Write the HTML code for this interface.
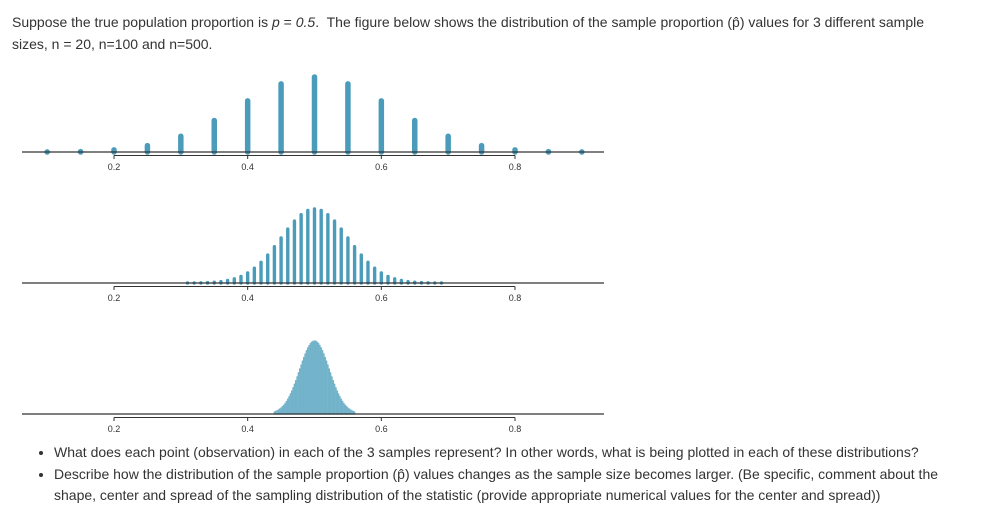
<!DOCTYPE html>
<html><head><meta charset="utf-8"><style>
body{margin:0;width:1005px;height:525px;background:#fff;font-family:"Liberation Sans",sans-serif;color:#333;font-size:14px;overflow:hidden;position:relative}
.p{position:absolute;left:12px;margin:0;line-height:22px}
ul{position:absolute;left:36px;top:442px;margin:0;padding:0 0 0 18px;line-height:21.5px;width:918px}
svg{position:absolute;left:0;top:0}
</style></head><body>
<p class="p" style="top:11px;width:940px">Suppose the true population proportion is <i>p</i> = <i>0.5</i>.&nbsp; The figure below shows the distribution of the sample proportion (p̂) values for 3 different sample sizes, n = 20, n=100 and n=500.</p>
<svg id="c" width="1005" height="525"></svg>
<ul>
<li>What does each point (observation) in each of the 3 samples represent? In other words, what is being plotted in each of these distributions?</li>
<li>Describe how the distribution of the sample proportion (p̂) values changes as the sample size becomes larger. (Be specific, comment about the shape, center and spread of the sampling distribution of the statistic (provide appropriate numerical values for the center and spread))</li>
</ul>
<script>
const tickLabels=["0.2","0.4","0.6","0.8"];
const tickValues=[0.2,0.4,0.6,0.8];
const n20Props=[0.1,0.15,0.2,0.25,0.3,0.35,0.4,0.45,0.5,0.55,0.6,0.65,0.7,0.75,0.8,0.85,0.9];
const n20Probs=[0.0002,0.001,0.005,0.015,0.037,0.074,0.120,0.160,0.176,0.160,0.120,0.074,0.037,0.015,0.005,0.001,0.0002];
const n100Probs=[0.00004,0.0001,0.0002,0.0005,0.0009,0.0016,0.0027,0.0045,0.0071,0.0108,0.0159,0.0223,0.0301,0.0390,0.0485,0.0580,0.0666,0.0735,0.0780,0.0796,0.0780,0.0735,0.0666,0.0580,0.0485,0.0390,0.0301,0.0223,0.0159,0.0108,0.0071,0.0045,0.0027,0.0016,0.0009,0.0005,0.0002,0.0001,0.00004];
const n100Start=0.31, n100Step=0.01;
const n500Rel=[0.027,0.035,0.044,0.054,0.067,0.082,0.100,0.120,0.144,0.171,0.202,0.236,0.273,0.315,0.359,0.407,0.457,0.508,0.562,0.616,0.670,0.723,0.774,0.822,0.866,0.905,0.938,0.965,0.984,0.996,1,0.996,0.984,0.965,0.938,0.905,0.866,0.822,0.774,0.723,0.670,0.616,0.562,0.508,0.457,0.407,0.359,0.315,0.273,0.236,0.202,0.171,0.144,0.120,0.100,0.082,0.067,0.054,0.044,0.035,0.027];
const n500Peak=0.0357, n500Start=0.44, n500Step=0.002;
const NS="http://www.w3.org/2000/svg", svg=document.getElementById('c');
const x=v=>114+(v-0.2)*(401/0.6);
function el(t,a){const e=document.createElementNS(NS,t);for(const k in a)e.setAttribute(k,a[k]);svg.appendChild(e);return e;}
function axis(base,name){
 let l=el('line',{x1:22,x2:604,y1:base,y2:base,stroke:'#333','stroke-width':1.2});
 
 
 let a=el('line',{x1:x(0.2),x2:x(0.8),y1:base+3.5,y2:base+3.5,stroke:'#333','stroke-width':1});
 
 
 tickValues.forEach((v,i)=>{
  let t=el('line',{x1:x(v),x2:x(v),y1:base+3.5,y2:base+7,stroke:'#333'});
  
  
  let tx=el('text',{x:x(v),y:base+18,'text-anchor':'middle','font-size':9,fill:'#333','font-family':'Liberation Sans, sans-serif'});
  tx.textContent=tickLabels[i];
  
  
 });
}
function stems(props,vals,base,yscale,w,col,name){
 props.forEach((p,i)=>{
  const h=vals[i]*yscale;
  let s=el('line',{x1:x(p),x2:x(p),y1:base,y2:base-h,stroke:col,'stroke-width':w,'stroke-linecap':'round'});
  
  
 });
}
stems(n20Props,n20Probs,152,75/0.176,5.5,'#4b9cba','n20');
axis(152,'n20');
const p100=n100Probs.map((_,i)=>n100Start+i*n100Step);
stems(p100,n100Probs,283,74/0.0796,3.4,'#4b9cba','n100');
axis(283,'n100');
const p500=n500Rel.map((_,i)=>n500Start+i*n500Step);
const v500=n500Rel.map(r=>r*n500Peak);
stems(p500,v500,414,73/0.0357,1.6,'#73b3ca','n500');
axis(414,'n500');
</script>
</body></html>
